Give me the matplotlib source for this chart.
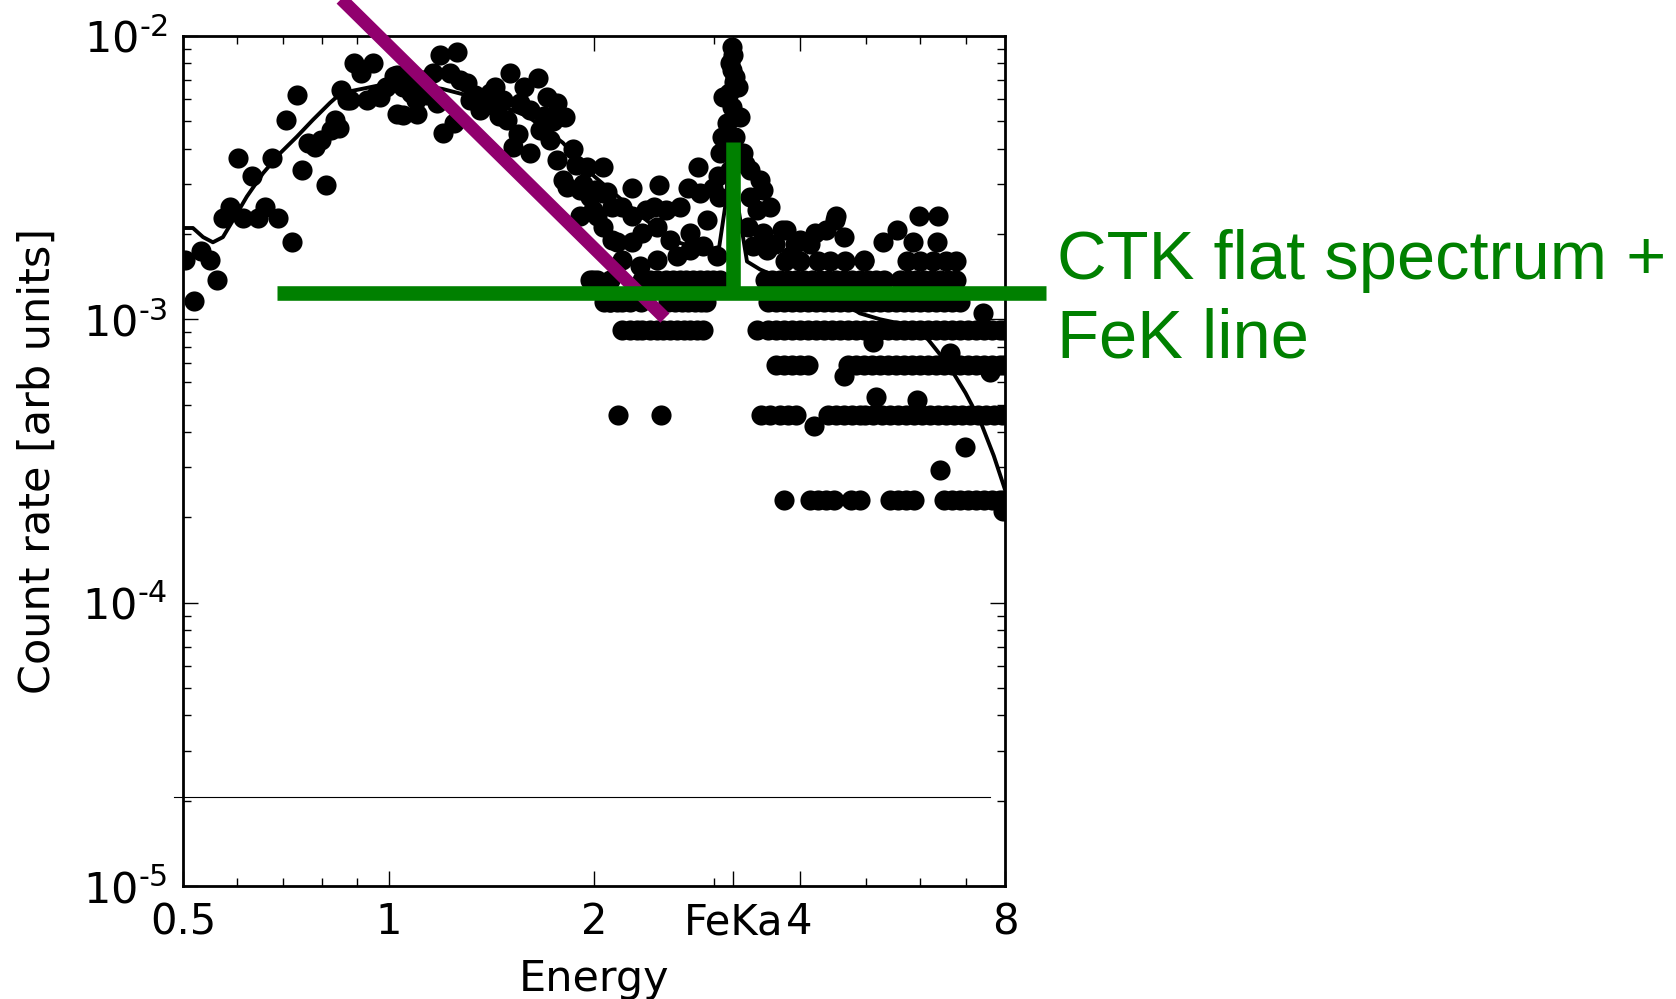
import matplotlib
matplotlib.use("Agg")
import matplotlib.pyplot as plt
from matplotlib.ticker import FixedLocator, FixedFormatter, LogLocator, NullFormatter

# ---------------- data (rates in units of 1e-3, arbitrary) ----------------
soft_energy = [0.503, 0.518, 0.532, 0.548, 0.561, 0.572, 0.586, 0.602, 0.612, 0.631,
               0.644, 0.659, 0.675, 0.689, 0.707, 0.722, 0.734, 0.746, 0.762, 0.780,
               0.797, 0.810, 0.823, 0.836, 0.845, 0.853, 0.870, 0.878, 0.890, 0.910,
               0.930, 0.950, 0.960, 0.970, 0.992, 1.020, 1.029, 1.030, 1.050, 1.050]
soft_rate = [1.62, 1.16, 1.74, 1.62, 1.38, 2.28, 2.50, 3.70, 2.28, 3.20,
             2.28, 2.50, 3.70, 2.28, 5.06, 1.87, 6.20, 3.37, 4.20, 4.07,
             4.30, 2.98, 4.66, 5.06, 4.75, 6.45, 5.95, 5.95, 8.00, 7.40,
             5.95, 8.00, 6.20, 6.10, 6.61, 7.20, 7.29, 5.30, 6.61, 5.27]

mid_energy = [1.060, 1.080, 1.098, 1.100, 1.120, 1.124, 1.140, 1.161, 1.177, 1.190,
              1.203, 1.231, 1.245, 1.260, 1.273, 1.302, 1.316, 1.340, 1.362, 1.390,
              1.408, 1.432, 1.450, 1.472, 1.490, 1.506, 1.520, 1.550, 1.558, 1.580,
              1.612, 1.612, 1.655, 1.667, 1.690, 1.707, 1.724, 1.740, 1.765, 1.765,
              1.802, 1.814, 1.826, 1.860, 1.880, 1.908, 1.908, 1.930, 1.953, 1.973,
              1.990, 1.990, 2.060, 2.060, 2.060, 2.110, 2.125, 2.125]
mid_rate = [6.90, 6.30, 5.95, 5.30, 6.60, 7.00, 6.20, 7.41, 5.81, 8.58,
            4.55, 7.41, 4.93, 8.75, 7.00, 6.83, 5.95, 6.20, 5.48, 5.70,
            6.30, 6.61, 5.20, 5.95, 5.06, 7.41, 4.06, 4.50, 5.81, 6.60,
            5.48, 3.86, 7.10, 4.66, 5.20, 6.10, 4.30, 5.00, 5.81, 3.65,
            3.10, 5.18, 2.93, 4.00, 3.50, 2.86, 2.31, 3.00, 3.45, 2.71,
            2.43, 1.38, 3.45, 2.79, 2.12, 1.15, 2.50, 1.91]

ks_energy = [2.005, 2.020, 2.090, 2.160, 2.170, 2.200, 2.200, 2.270, 2.270, 2.270,
             2.336, 2.350, 2.380, 2.450, 2.470, 2.470, 2.490, 2.510, 2.550, 2.585,
             2.650, 2.670, 2.750, 2.765, 2.765, 2.840, 2.860, 2.890, 2.930, 2.990,
             3.030, 3.040, 3.050]
ks_rate = [2.86, 2.31, 2.82, 1.87, 0.46, 2.50, 1.62, 2.90, 2.31, 1.87,
           1.54, 2.02, 2.43, 2.50, 2.12, 1.62, 2.98, 0.46, 2.43, 1.91,
           1.67, 2.50, 2.90, 2.02, 1.76, 3.45, 2.79, 1.81, 2.24, 2.90,
           1.67, 3.20, 2.70]

line_energy = [3.060, 3.080, 3.090, 3.130, 3.150, 3.160, 3.160, 3.180, 3.190, 3.190,
               3.200, 3.210, 3.220, 3.220, 3.250, 3.270, 3.300, 3.330]
line_rate = [3.86, 4.41, 6.10, 4.93, 6.30, 8.03, 3.37, 7.60, 9.15, 5.62,
             8.60, 6.90, 7.17, 4.41, 6.61, 5.18, 3.86, 3.52]

hard_energy = [3.360, 3.385, 3.385, 3.420, 3.470, 3.500, 3.500, 3.535, 3.535, 3.580,
               3.620, 3.680, 3.770, 3.810, 3.820, 3.870, 3.940, 4.000, 4.000, 4.140,
               4.220, 4.260, 4.380, 4.430, 4.500, 4.520, 4.650, 4.660, 4.970, 4.970,
               5.300, 5.550, 5.750, 5.870, 5.980, 6.000, 6.270, 6.350, 6.380, 6.550,
               6.770]
hard_rate = [2.12, 3.37, 2.71, 1.81, 2.43, 3.10, 1.84, 2.86, 2.02, 1.76,
             2.50, 1.84, 2.07, 1.61, 2.07, 1.67, 1.84, 1.91, 1.61, 1.84,
             2.02, 1.61, 2.07, 1.61, 2.24, 2.31, 1.95, 1.61, 1.62, 1.61,
             1.87, 2.07, 1.61, 1.87, 2.31, 1.61, 1.61, 1.87, 2.31, 1.61,
             1.61]

# quantised count levels at high energy (rate of each row, and the energies on it)
row_levels = [1.38, 1.15, 0.92, 0.69, 0.46, 0.23]
row6_energy = [1.973, 2.020, 2.110, 2.350, 2.416, 2.470, 2.550, 2.610, 2.673, 2.730,
               2.790, 2.860, 2.930, 2.990, 3.060, 3.560, 3.650, 3.746, 3.850, 3.950,
               4.060, 4.170, 4.290, 4.400, 4.520, 4.650, 4.770, 4.900, 5.040, 5.170,
               5.310, 5.610, 5.770, 5.930, 6.090, 6.250, 6.420, 6.600, 6.780]
row5_energy = [2.070, 2.110, 2.160, 2.200, 2.258, 2.340, 2.570, 2.630, 2.690, 2.750,
               2.810, 2.870, 2.920, 3.600, 3.695, 3.796, 3.900, 4.007, 4.116, 4.228,
               4.344, 4.462, 4.585, 4.710, 4.838, 4.970, 5.107, 5.247, 5.390, 5.538,
               5.690, 5.844, 6.005, 6.170, 6.340, 6.510, 6.690, 6.870]
row4_energy = [2.200, 2.258, 2.310, 2.350, 2.416, 2.470, 2.520, 2.585, 2.650, 2.710,
               2.765, 2.830, 2.890, 3.470, 3.600, 3.695, 3.796, 3.900, 4.007, 4.116,
               4.228, 4.344, 4.462, 4.585, 4.710, 4.838, 4.970, 5.107, 5.247, 5.390,
               5.538, 5.690, 5.844, 6.005, 6.170, 6.340, 6.510, 6.690, 6.870, 7.060,
               7.250, 7.450, 7.650, 7.870, 7.980]
row3_energy = [3.695, 3.796, 3.900, 4.007, 4.116, 4.710, 4.838, 4.970, 5.107, 5.247,
               5.390, 5.538, 5.690, 5.844, 6.005, 6.170, 6.340, 6.510, 6.690, 6.870,
               7.060, 7.250, 7.450, 7.650, 7.870, 7.980]
row2_energy = [3.510, 3.620, 3.746, 3.850, 3.950, 4.400, 4.520, 4.650, 4.770, 4.900,
               4.990, 5.130, 5.280, 5.430, 5.570, 5.730, 5.880, 6.050, 6.210, 6.380,
               6.560, 6.730, 6.920, 7.110, 7.300, 7.500, 7.710, 7.920]
row1_energy = [3.796, 4.140, 4.260, 4.370, 4.490, 4.760, 4.900, 5.430, 5.570, 5.730,
               5.880, 6.510, 6.690, 6.870, 7.060, 7.250, 7.450, 7.650, 7.870, 7.980]

low_energy = [4.200, 4.640, 5.120, 5.180, 5.950, 6.420, 6.640, 6.990, 7.430, 7.600, 7.950]
low_rate = [0.42, 0.63, 0.83, 0.53, 0.52, 0.294, 0.76, 0.355, 1.05, 0.65, 0.21]

# folded model curve
model_energy = [0.50, 0.517, 0.535, 0.553, 0.572, 0.592, 0.62, 0.655, 0.694, 0.734,
                0.775, 0.821, 0.84, 0.87, 0.93, 1.0, 1.05, 1.12, 1.2, 1.4,
                1.6, 1.8, 2.0, 2.3, 2.6, 2.9, 3.05, 3.12, 3.19, 3.26,
                3.35, 3.5, 4.0, 4.5, 4.9, 5.25, 5.8, 6.12, 6.4, 6.71,
                7.0, 7.35, 7.7, 8.0]
model_rate = [2.1, 2.1, 1.95, 1.87, 1.95, 2.24, 2.71, 3.28, 3.86, 4.41,
              5.06, 5.81, 6.1, 6.35, 6.56, 6.8, 6.9, 6.7, 6.5, 5.9,
              5.2, 4.2, 3.2, 2.4, 1.9, 1.75, 1.8, 2.6, 6.0, 2.4,
              1.6, 1.5, 1.3, 1.2, 1.05, 1.0, 0.95, 0.87, 0.76, 0.65,
              0.55, 0.44, 0.33, 0.25]

# overlay annotation lines
purple_energy = [0.80, 2.54]
purple_rate = [15.7, 1.01]
flat_energy = [0.687, 9.19]
flat_rate = [1.24, 1.24]
fek_energy = [3.2, 3.2]
fek_rate = [1.24, 4.24]
ref_energy = [0.485, 7.6]
ref_rate = [0.0206, 0.0206]

xtick_values = [0.5, 1, 2, 3.2, 4, 8]
xtick_labels = ['0.5', '1', '2', 'FeKa', '4', '8']
ytick_values = [1e-5, 1e-4, 1e-3, 1e-2]
ytick_labels = [r'$10^{\text{-}5}$', r'$10^{\text{-}4}$', r'$10^{\text{-}3}$', r'$10^{\text{-}2}$']

# ---------------- assemble ----------------
S = 1e-3
pts_e = soft_energy + mid_energy + ks_energy + line_energy + hard_energy + low_energy
pts_r = soft_rate + mid_rate + ks_rate + line_rate + hard_rate + low_rate
for lev, row in zip(row_levels, [row6_energy, row5_energy, row4_energy,
                                 row3_energy, row2_energy, row1_energy]):
    pts_e = pts_e + row
    pts_r = pts_r + [lev] * len(row)
pts_r = [r * S for r in pts_r]

fig = plt.figure(figsize=(16.76, 9.99), dpi=100)
ax = fig.add_axes([0.1092, 0.1131, 0.4905, 0.8509])
ax.set_xscale('log')
ax.set_yscale('log')

ax.plot(pts_e, pts_r, 'o', color='black', ms=14.5, mew=0, zorder=2)
ax.plot(model_energy, [r * S for r in model_rate], '-', color='black', lw=2.8, zorder=3)

ax.plot(ref_energy, [r * S for r in ref_rate], '-', color='black', lw=0.8,
        clip_on=False, zorder=3)
ax.plot(purple_energy, [r * S for r in purple_rate], '-', color='#91006E', lw=9.4,
        solid_capstyle='butt', clip_on=False, zorder=4)
ax.plot(flat_energy, [r * S for r in flat_rate], '-', color='green', lw=10.5,
        solid_capstyle='butt', clip_on=False, zorder=5)
ax.plot(fek_energy, [r * S for r in fek_rate], '-', color='green', lw=10.5,
        solid_capstyle='butt', clip_on=False, zorder=5)

ax.set_xlim(0.5, 8)
ax.set_ylim(1e-5, 1e-2)

ax.xaxis.set_major_locator(FixedLocator(xtick_values))
ax.xaxis.set_major_formatter(FixedFormatter(xtick_labels))
ax.xaxis.set_minor_locator(LogLocator(base=10.0, subs=[2, 3, 4, 5, 6, 7, 8, 9], numticks=20))
ax.xaxis.set_minor_formatter(NullFormatter())
ax.yaxis.set_major_locator(FixedLocator(ytick_values))
ax.yaxis.set_major_formatter(FixedFormatter(ytick_labels))
ax.yaxis.set_minor_locator(LogLocator(base=10.0, subs=[2, 3, 4, 5, 6, 7, 8, 9], numticks=20))
ax.yaxis.set_minor_formatter(NullFormatter())

ax.tick_params(which='both', direction='in', top=True, right=True)
ax.tick_params(which='major', length=11, width=1, labelsize=30, pad=11)
ax.tick_params(axis='y', which='major', labelsize=31)
ax.tick_params(which='minor', length=5.5, width=1)
for sp in ax.spines.values():
    sp.set_linewidth(2)

ax.set_xlabel('Energy', fontsize=31)
ax.xaxis.set_label_coords(0.5, -0.085)
ax.set_ylabel('Count rate [arb units]', fontsize=31)
ax.yaxis.set_label_coords(-0.151, 0.5)

fig.text(1057 / 1676, 1 - 358 / 999, 'CTK flat spectrum +\nFeK line', color='green',
         fontsize=49.5, family='Liberation Sans', ha='left', va='baseline', linespacing=1.29)

fig.savefig('out.png', dpi=100)
